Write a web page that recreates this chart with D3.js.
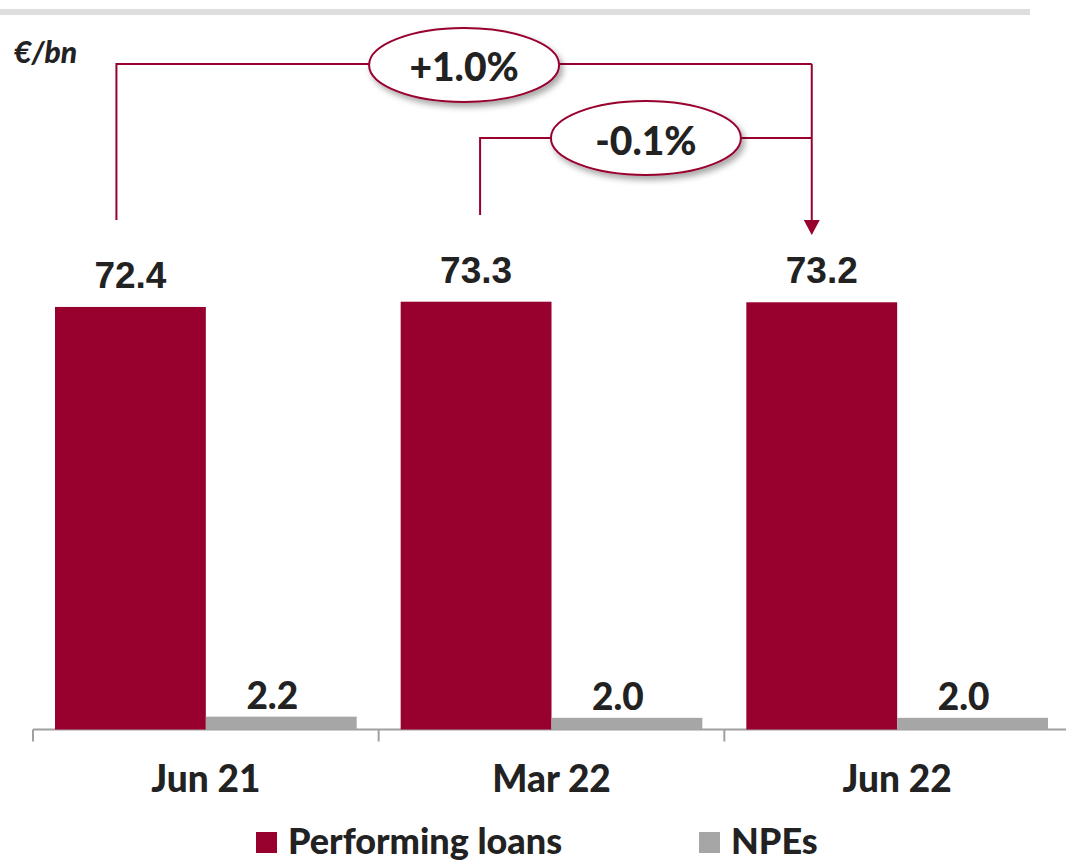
<!DOCTYPE html>
<html>
<head>
<meta charset="utf-8">
<script src="https://cdn.jsdelivr.net/npm/d3@7"></script>
<style>
  body { margin: 0; background: #fff; }
  text { font-family: Lato, "Open Sans", sans-serif; font-weight: 900; fill: #222; }
</style>
</head>
<body>
<div id="chart"></div>
<script>
var svgWidth = 1066;
var svgHeight = 862;

// Data
var categories = ["Jun 21", "Mar 22", "Jun 22"];
var seriesNames = ["Performing loans", "NPEs"];
var performing = [72.4, 73.3, 73.2];
var npes = [2.2, 2.0, 2.0];
var changes = [
  { from: 0, to: 2, label: "+1.0%" },
  { from: 1, to: 2, label: "-0.1%" }
];

var red = "#98002e";
var grey = "#a6a6a6";

var svg = d3.select("#chart")
  .append("svg")
  .attr("width", svgWidth)
  .attr("height", svgHeight);

// drop shadow for the bubbles
var filter = svg.append("defs").append("filter")
  .attr("id", "shadow")
  .attr("x", "-20%").attr("y", "-30%")
  .attr("width", "140%").attr("height", "160%");
filter.append("feDropShadow")
  .attr("dx", 3).attr("dy", 4)
  .attr("stdDeviation", 3)
  .attr("flood-color", "#000")
  .attr("flood-opacity", 0.35);

// top grey rule
svg.append("rect")
  .attr("x", 0).attr("y", 9)
  .attr("width", 1030).attr("height", 6)
  .attr("fill", "#dedede");

svg.append("text")
  .attr("x", 14).attr("y", 63)
  .style("font-size", "30px")
  .style("font-style", "italic")
  .text("€/bn");

// Scales
var x0 = d3.scaleBand()
  .domain(categories)
  .range([33, 1070]);

var x1 = d3.scaleBand()
  .domain(seriesNames)
  .range([22, x0.bandwidth() - 22]);

var yScale = d3.scaleLinear()
  .domain([0, 80])
  .range([729.5, 262.6]);

var baseY = yScale(0);

// axis line + ticks at the band edges
svg.append("line")
  .attr("x1", 33).attr("x2", svgWidth)
  .attr("y1", baseY).attr("y2", baseY)
  .attr("stroke", "#a0a0a0")
  .attr("stroke-width", 2);

svg.selectAll(".tick-mark")
  .data(categories)
  .enter()
  .append("line")
  .attr("x1", d => x0(d)).attr("x2", d => x0(d))
  .attr("y1", baseY).attr("y2", baseY + 12)
  .attr("stroke", "#a0a0a0")
  .attr("stroke-width", 2);

// category labels
var bottomAxis = d3.axisBottom(x0).tickSize(0).tickPadding(0);
var axisG = svg.append("g")
  .attr("transform", `translate(0, ${baseY})`)
  .call(bottomAxis);
axisG.select(".domain").remove();
axisG.selectAll("text")
  .attr("dy", null)
  .attr("y", 62)
  .style("font-size", "37px")
  .style("font-family", "Lato, sans-serif")
  .style("font-weight", "900")
  .attr("fill", "#222");

// Bars
var rows = categories.map((c, i) => ({ cat: c, values: [performing[i], npes[i]] }));

var groups = svg.selectAll(".group")
  .data(rows)
  .enter()
  .append("g")
  .attr("transform", d => `translate(${x0(d.cat)}, 0)`);

groups.selectAll("rect")
  .data(d => d.values.map((v, j) => ({ name: seriesNames[j], value: v })))
  .enter()
  .append("rect")
  .attr("x", d => x1(d.name))
  .attr("y", d => yScale(d.value))
  .attr("width", x1.bandwidth())
  .attr("height", d => baseY - yScale(d.value))
  .attr("fill", d => d.name === "NPEs" ? grey : red);

// value labels
groups.selectAll(".val")
  .data(d => d.values.map((v, j) => ({ name: seriesNames[j], value: v })))
  .enter()
  .append("text")
  .attr("x", d => x1(d.name) + x1.bandwidth() / 2 + (d.name === "NPEs" ? -9 : 0))
  .attr("y", d => yScale(d.value) - (d.name === "NPEs" ? 8 : 19))
  .attr("text-anchor", "middle")
  .style("font-size", "37px")
  .style("font-weight", d => d.name === "NPEs" ? "900" : "bold")
  .style("font-family", d => d.name === "NPEs" ? "Lato, sans-serif" : "'Liberation Sans', Arial, sans-serif")
  .text(d => d.value.toFixed(1));

// Change annotations (bracket from one bar to another)
function barCenter(i) {
  return x0(categories[i]) + x1(seriesNames[0]) + x1.bandwidth() / 2;
}
var startOffsets = [-14, 4];
var levels = [64, 138];
var startBottoms = [220, 215];
var arrowX = barCenter(2) - 10;
var arrowTip = 235;

var ann = svg.append("g");
changes.forEach(function(c, k) {
  var sx = barCenter(c.from) + startOffsets[k];
  var ly = levels[k];
  ann.append("path")
    .attr("d", `M${sx},${startBottoms[k]} V${ly} H${arrowX}`)
    .attr("fill", "none")
    .attr("stroke", red)
    .attr("stroke-width", 2);
});
ann.append("line")
  .attr("x1", arrowX).attr("x2", arrowX)
  .attr("y1", levels[0]).attr("y2", arrowTip - 14)
  .attr("stroke", red)
  .attr("stroke-width", 2);
ann.append("path")
  .attr("d", `M${arrowX - 8},${arrowTip - 15} L${arrowX + 8},${arrowTip - 15} L${arrowX},${arrowTip} Z`)
  .attr("fill", red);

changes.forEach(function(c, k) {
  var sx = barCenter(c.from) + startOffsets[k];
  var cx = (sx + arrowX) / 2;
  var ly = levels[k];
  ann.append("ellipse")
    .attr("cx", cx).attr("cy", ly + (k === 0 ? 1 : 0))
    .attr("rx", 95).attr("ry", 37)
    .attr("fill", "#fff")
    .attr("stroke", red)
    .attr("stroke-width", 2)
    .attr("filter", "url(#shadow)");
  ann.append("text")
    .attr("x", cx).attr("y", ly + 17)
    .attr("text-anchor", "middle")
    .style("font-size", "39px")
    .text(c.label);
});

// Legend
var legendX = [256, 699];
var legend = svg.selectAll(".legend")
  .data(seriesNames)
  .enter()
  .append("g")
  .attr("transform", (d, i) => `translate(${legendX[i]}, 832)`);
legend.append("rect")
  .attr("width", 21).attr("height", 21)
  .attr("fill", d => d === "NPEs" ? grey : red);
legend.append("text")
  .attr("x", 32).attr("y", 22)
  .style("font-size", "36px")
  .text(d => d);
</script>
</body>
</html>
